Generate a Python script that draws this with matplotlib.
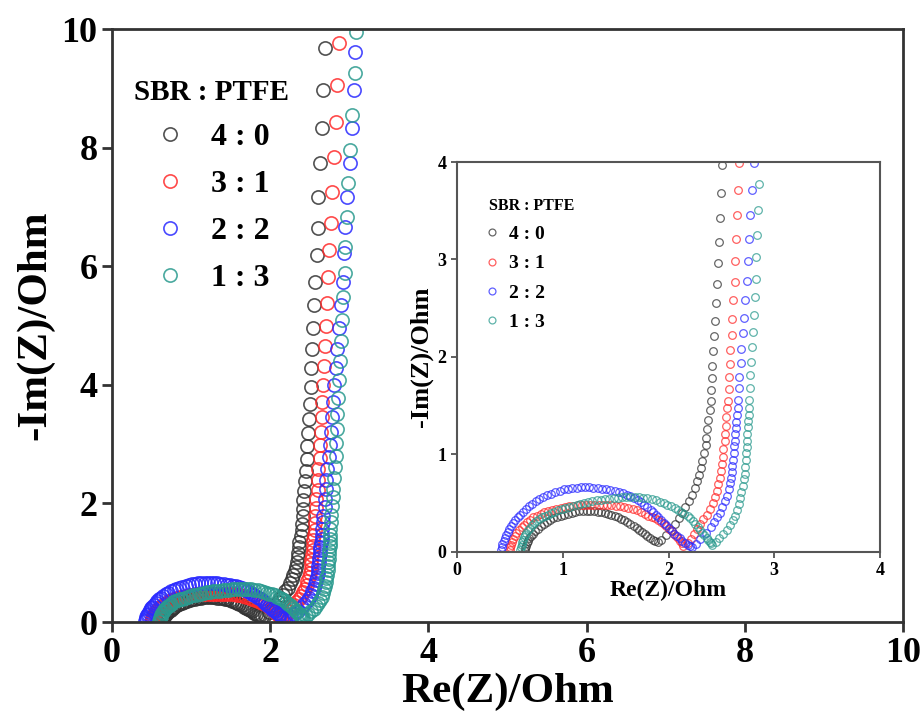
import numpy as np
import matplotlib.pyplot as plt

plt.rcParams.update({'font.family': 'Liberation Serif', 'font.weight': 'bold',
                     'axes.labelweight': 'bold'})

labels = ['4 : 0', '3 : 1', '2 : 2', '1 : 3']
colors = ['#333333', '#ff2a2a', '#2a2aff', '#2a9a8e']

# 4:0  (semicircle, then low-frequency tail)
re_40 = [0.64, 0.645, 0.65, 0.66, 0.67, 0.685, 0.70, 0.72, 0.74, 0.765, 0.79, 0.82,
         0.85, 0.88, 0.91, 0.945, 0.98, 1.015, 1.05, 1.085, 1.12, 1.155, 1.19, 1.225,
         1.26, 1.295, 1.33, 1.365, 1.40, 1.43, 1.46, 1.49, 1.52, 1.55, 1.58, 1.61,
         1.64, 1.67, 1.70, 1.725, 1.75, 1.775, 1.80, 1.825, 1.85, 1.875, 1.90,
         1.93, 1.98, 2.02, 2.06, 2.10, 2.13, 2.16, 2.19, 2.22, 2.25, 2.27, 2.29,
         2.31, 2.32, 2.34, 2.35, 2.355, 2.36, 2.37, 2.39, 2.40, 2.40, 2.41, 2.415,
         2.42, 2.43, 2.44, 2.45, 2.46, 2.47, 2.48, 2.49, 2.50, 2.51, 2.52, 2.53,
         2.54, 2.55, 2.57, 2.59, 2.60, 2.61, 2.63, 2.655, 2.67, 2.69]
im_40 = [0.01, 0.035, 0.06, 0.085, 0.11, 0.135, 0.16, 0.185, 0.21, 0.235, 0.26, 0.28,
         0.30, 0.32, 0.34, 0.355, 0.37, 0.38, 0.39, 0.40, 0.41, 0.415, 0.42, 0.42,
         0.42, 0.415, 0.41, 0.405, 0.40, 0.39, 0.38, 0.365, 0.35, 0.335, 0.32, 0.30,
         0.28, 0.26, 0.24, 0.22, 0.20, 0.18, 0.16, 0.14, 0.12, 0.11, 0.10,
         0.12, 0.17, 0.22, 0.28, 0.34, 0.40, 0.46, 0.52, 0.58, 0.65, 0.72, 0.79,
         0.86, 0.93, 1.01, 1.09, 1.17, 1.26, 1.35, 1.45, 1.55, 1.66, 1.78, 1.91,
         2.06, 2.21, 2.37, 2.55, 2.75, 2.96, 3.18, 3.42, 3.68, 3.97, 4.28, 4.60,
         4.95, 5.34, 5.73, 6.19, 6.64, 7.17, 7.74, 8.33, 8.97, 9.68]

# 3:1
re_31 = [0.50, 0.505, 0.51, 0.52, 0.53, 0.545, 0.56, 0.585, 0.61, 0.635, 0.66, 0.69,
         0.72, 0.755, 0.79, 0.825, 0.86, 0.90, 0.94, 0.98, 1.02, 1.06, 1.10, 1.14,
         1.18, 1.22, 1.26, 1.30, 1.34, 1.38, 1.42, 1.46, 1.50, 1.54, 1.58, 1.62,
         1.66, 1.70, 1.74, 1.775, 1.81, 1.84, 1.87, 1.90, 1.93, 1.955, 1.98, 2.005,
         2.03, 2.05, 2.07, 2.09, 2.11, 2.125, 2.14,
         2.18, 2.21, 2.24, 2.27, 2.30, 2.33, 2.36, 2.39, 2.42, 2.44, 2.46, 2.47,
         2.485, 2.50, 2.51, 2.515, 2.52, 2.53, 2.535, 2.54, 2.545, 2.55, 2.56, 2.57,
         2.57, 2.58, 2.58, 2.60, 2.60, 2.61, 2.625, 2.63, 2.64, 2.65, 2.66, 2.67,
         2.68, 2.69, 2.71, 2.72, 2.73, 2.74, 2.77, 2.78, 2.81, 2.83, 2.84, 2.87]
im_31 = [0.02, 0.045, 0.07, 0.10, 0.13, 0.16, 0.19, 0.22, 0.25, 0.275, 0.30, 0.325,
         0.35, 0.37, 0.39, 0.405, 0.42, 0.43, 0.44, 0.45, 0.46, 0.465, 0.47, 0.475,
         0.48, 0.48, 0.48, 0.48, 0.48, 0.48, 0.48, 0.475, 0.47, 0.465, 0.46, 0.45,
         0.44, 0.425, 0.41, 0.39, 0.37, 0.355, 0.34, 0.32, 0.30, 0.28, 0.26, 0.235,
         0.21, 0.185, 0.16, 0.135, 0.11, 0.085, 0.06,
         0.09, 0.13, 0.18, 0.23, 0.28, 0.33, 0.38, 0.44, 0.50, 0.56, 0.62, 0.69,
         0.76, 0.83, 0.90, 0.97, 1.05, 1.13, 1.21, 1.29, 1.38, 1.47, 1.55, 1.67,
         1.79, 1.93, 2.07, 2.22, 2.39, 2.58, 2.77, 2.98, 3.21, 3.46, 3.71, 3.99,
         4.31, 4.65, 5.00, 5.38, 5.82, 6.27, 6.73, 7.25, 7.84, 8.43, 9.06, 9.76]

# 2:2
re_22 = [0.42, 0.425, 0.43, 0.44, 0.45, 0.465, 0.48, 0.495, 0.51, 0.53, 0.55, 0.575,
         0.60, 0.625, 0.65, 0.68, 0.71, 0.745, 0.78, 0.815, 0.85, 0.89, 0.93, 0.97,
         1.01, 1.05, 1.09, 1.13, 1.17, 1.21, 1.25, 1.29, 1.33, 1.37, 1.41, 1.45,
         1.49, 1.53, 1.57, 1.605, 1.64, 1.675, 1.71, 1.74, 1.77, 1.80, 1.83, 1.855,
         1.88, 1.905, 1.93, 1.955, 1.98, 2.005, 2.03, 2.055, 2.08, 2.105, 2.13, 2.155,
         2.18, 2.20, 2.22,
         2.26, 2.30, 2.35, 2.40, 2.43, 2.46, 2.49, 2.51, 2.53, 2.55, 2.57, 2.58,
         2.59, 2.60, 2.605, 2.61, 2.615, 2.62, 2.625, 2.63, 2.635, 2.64, 2.65, 2.66,
         2.66, 2.67, 2.67, 2.69, 2.69, 2.705, 2.71, 2.72, 2.74, 2.75, 2.765, 2.775,
         2.79, 2.806, 2.83, 2.85, 2.87, 2.90, 2.92, 2.93, 2.95, 2.97, 3.01, 3.035,
         3.06, 3.07]
im_22 = [0.02, 0.05, 0.08, 0.11, 0.14, 0.17, 0.20, 0.23, 0.26, 0.29, 0.32, 0.35,
         0.38, 0.41, 0.44, 0.465, 0.49, 0.515, 0.54, 0.56, 0.58, 0.595, 0.61, 0.625,
         0.64, 0.645, 0.65, 0.655, 0.66, 0.66, 0.66, 0.655, 0.65, 0.645, 0.64, 0.63,
         0.62, 0.61, 0.60, 0.585, 0.57, 0.55, 0.53, 0.505, 0.48, 0.455, 0.43, 0.405,
         0.38, 0.35, 0.32, 0.295, 0.27, 0.24, 0.21, 0.185, 0.16, 0.135, 0.11, 0.09,
         0.07, 0.06, 0.05,
         0.08, 0.13, 0.19, 0.25, 0.30, 0.35, 0.40, 0.46, 0.52, 0.57, 0.64, 0.70,
         0.76, 0.82, 0.88, 0.94, 1.01, 1.08, 1.14, 1.21, 1.27, 1.33, 1.40, 1.47,
         1.56, 1.68, 1.79, 1.94, 2.08, 2.24, 2.40, 2.58, 2.78, 2.98, 3.21, 3.46,
         3.71, 3.99, 4.28, 4.60, 4.95, 5.34, 5.73, 6.22, 6.66, 7.17, 7.74, 8.33,
         8.97, 9.61]

# 1:3
re_13 = [0.60, 0.605, 0.61, 0.615, 0.62, 0.63, 0.64, 0.655, 0.67, 0.69, 0.71, 0.73,
         0.75, 0.775, 0.80, 0.83, 0.86, 0.89, 0.92, 0.955, 0.99, 1.025, 1.06, 1.095,
         1.13, 1.165, 1.20, 1.24, 1.28, 1.32, 1.36, 1.40, 1.44, 1.48, 1.52, 1.56,
         1.60, 1.64, 1.68, 1.72, 1.76, 1.80, 1.84, 1.88, 1.92, 1.955, 1.99, 2.025,
         2.06, 2.09, 2.12, 2.15, 2.18, 2.205, 2.23, 2.255, 2.28, 2.30, 2.32, 2.34,
         2.36, 2.375, 2.39, 2.40, 2.41,
         2.45, 2.48, 2.52, 2.55, 2.58, 2.61, 2.63, 2.65, 2.67, 2.68, 2.69, 2.70,
         2.71, 2.72, 2.725, 2.73, 2.735, 2.74, 2.74, 2.74, 2.75, 2.755, 2.76, 2.76,
         2.76, 2.77, 2.77, 2.78, 2.79, 2.80, 2.81, 2.815, 2.83, 2.83, 2.84, 2.85,
         2.86, 2.87, 2.88, 2.89, 2.91, 2.92, 2.95, 2.95, 2.97, 2.98, 3.01, 3.04,
         3.07, 3.09]
im_13 = [0.02, 0.045, 0.07, 0.095, 0.12, 0.145, 0.17, 0.195, 0.22, 0.245, 0.27, 0.29,
         0.31, 0.33, 0.35, 0.365, 0.38, 0.395, 0.41, 0.425, 0.44, 0.45, 0.46, 0.47,
         0.48, 0.49, 0.50, 0.51, 0.52, 0.525, 0.53, 0.535, 0.54, 0.545, 0.55, 0.555,
         0.56, 0.56, 0.555, 0.555, 0.55, 0.545, 0.535, 0.525, 0.51, 0.495, 0.48, 0.465,
         0.45, 0.43, 0.41, 0.39, 0.37, 0.34, 0.31, 0.28, 0.25, 0.22, 0.19, 0.165,
         0.14, 0.12, 0.10, 0.085, 0.07,
         0.10, 0.14, 0.18, 0.22, 0.27, 0.32, 0.37, 0.43, 0.49, 0.55, 0.61, 0.67,
         0.74, 0.80, 0.87, 0.94, 1.01, 1.07, 1.14, 1.21, 1.28, 1.34, 1.40, 1.47,
         1.56, 1.68, 1.81, 1.95, 2.10, 2.25, 2.43, 2.61, 2.80, 3.02, 3.25, 3.51,
         3.77, 4.08, 4.40, 4.74, 5.10, 5.48, 5.89, 6.32, 6.83, 7.40, 7.96, 8.55,
         9.26, 9.95]

series = [(re_40, im_40), (re_31, im_31), (re_22, im_22), (re_13, im_13)]

fig = plt.figure(figsize=(9.21, 7.22), dpi=100)
ax = fig.add_axes([0.1216, 0.1385, 0.8589, 0.8213])
axin = fig.add_axes([0.4962, 0.2361, 0.4593, 0.5395])

for i, (x, y) in enumerate(series):
    ax.plot(x, y, 'o', mfc='none', mec=colors[i], mew=1.2, ms=9.5, alpha=0.85,
            label=labels[i])
    axin.plot(x, y, 'o', mfc='none', mec=colors[i], mew=0.9, ms=5.5, alpha=0.75,
              label=labels[i])

ax.set_xlim(0, 10)
ax.set_ylim(0, 10)
ax.set_xticks(np.arange(0, 11, 2))
ax.set_yticks(np.arange(0, 11, 2))
ax.tick_params(direction='out', length=7, width=2, labelsize=26, color='#333333')
for sp in ax.spines.values():
    sp.set_linewidth(2)
    sp.set_color('#333333')
ax.set_xlabel('Re(Z)/Ohm', fontsize=31, labelpad=2)
ax.set_ylabel('-Im(Z)/Ohm', fontsize=31, labelpad=5)
ax.legend(title='SBR : PTFE', frameon=False, loc='upper left',
          bbox_to_anchor=(-0.008, 0.965), prop={'size': 23, 'weight': 'bold'},
          title_fontproperties={'size': 21, 'weight': 'bold'},
          handlelength=1.0, handletextpad=0.8, labelspacing=0.55, markerscale=1.0)

axin.set_xlim(0, 4)
axin.set_ylim(0, 4)
axin.set_xticks(np.arange(0, 5, 1))
axin.set_yticks(np.arange(0, 5, 1))
axin.tick_params(direction='out', length=4, width=1.2, labelsize=13, color='#444444')
for sp in axin.spines.values():
    sp.set_linewidth(1.5)
    sp.set_color('#555555')
axin.set_xlabel('Re(Z)/Ohm', fontsize=17, labelpad=1)
axin.set_ylabel('-Im(Z)/Ohm', fontsize=19, labelpad=3)
leg = axin.legend(title='SBR : PTFE', frameon=False, loc='upper left',
                  bbox_to_anchor=(0.057, 0.928), borderaxespad=0,
                  prop={'size': 14, 'weight': 'bold'},
                  title_fontproperties={'size': 11.5, 'weight': 'bold'},
                  handlelength=0.3, handletextpad=0.75, labelspacing=0.6,
                  markerscale=0.9)
leg._legend_box.align = 'left'

fig.savefig('out.png', dpi=100)
